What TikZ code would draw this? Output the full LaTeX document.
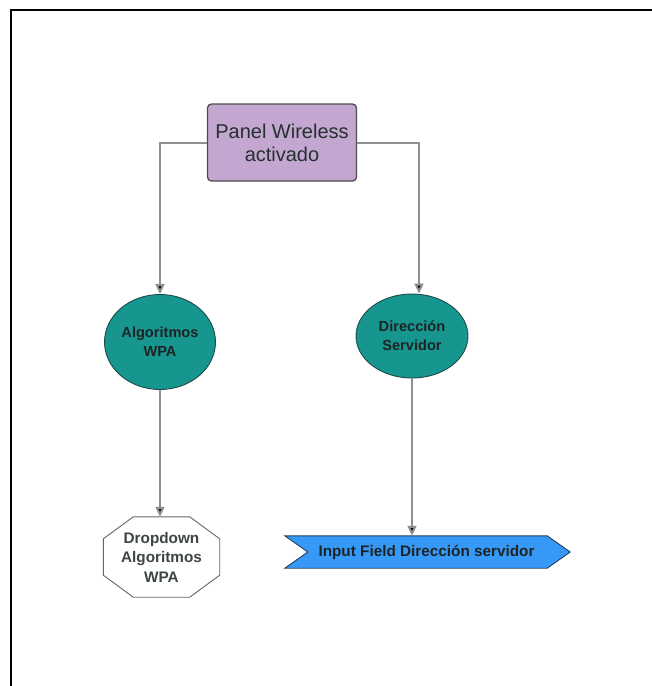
\documentclass[tikz,border=0pt]{standalone}
\usepackage{fontspec}
\setmainfont{Liberation Sans}
\usetikzlibrary{arrows.meta,calc,shapes.geometric}
\definecolor{panelfill}{HTML}{C3A7D1}
\definecolor{panelline}{HTML}{4D4D4D}
\definecolor{tealfill}{HTML}{17968F}
\definecolor{tealline}{HTML}{1E4B49}
\definecolor{inputfill}{HTML}{3799F7}
\definecolor{inputline}{HTML}{22405E}
\definecolor{wire}{HTML}{8F8F8F}
\definecolor{darktext}{HTML}{1C2424}
\tikzset{
  panelbox/.style={draw=panelline, line width=1.3pt, fill=panelfill, rounded corners=4pt,
    minimum width=149pt, minimum height=77pt, align=center, inner sep=0pt,
    font=\fontsize{20}{23}\selectfont, text=darktext!95},
  bubble/.style={ellipse, draw=tealline, line width=0.9pt, fill=tealfill, align=center,
    inner sep=0pt, font=\bfseries\fontsize{14.6}{19}\selectfont, text=darktext},
  holder/.style={draw=none, inner sep=0pt, align=center},
  octo/.style={draw=black!60, line width=0.9pt, fill=white},
  chevron/.style={draw=inputline, line width=0.9pt, fill=inputfill},
  link/.style={draw=wire, line width=2pt, -{Triangle[length=10pt,width=9pt,fill=black]}},
  frameline/.style={draw=black, line width=2pt}
}
\begin{document}
\begin{tikzpicture}[x=1pt,y=-1pt]
\useasboundingbox (0,0) rectangle (652,686);
% outer frame (left and top edges)
\draw[frameline] (11,686) -- (11,9.5) -- (652,9.5);

% top panel
\node[panelbox] (panel) at (282,142.5) {Panel Wireless\\activado};

% the two teal ellipses
\node[bubble, minimum width=111pt, minimum height=95pt] (wpa) at (160,342) {Algoritmos\\WPA};
\node[bubble, minimum width=112pt, minimum height=84pt] (srv) at (412,336) {Dirección\\Servidor};

% octagon for the dropdown
\node[holder, minimum width=116pt, minimum height=80pt] (dd) at (161.5,557) {};
\draw[octo] ([xshift=30pt]dd.north west) -- ([xshift=-30pt]dd.north east)
  -- ([yshift=-22pt]dd.north east) -- ([yshift=22pt]dd.south east)
  -- ([xshift=-30pt]dd.south east) -- ([xshift=30pt]dd.south west)
  -- ([yshift=22pt]dd.south west) -- ([yshift=-22pt]dd.north west) -- cycle;
\node[font=\bfseries\fontsize{15.3}{19.5}\selectfont, text=darktext!85, align=center] at (dd.center)
  {Dropdown\\Algoritmos\\WPA};

% chevron for the input field
\node[holder, minimum width=285pt, minimum height=32pt] (inp) at (427.5,552) {};
\draw[chevron] (inp.north west) -- ([xshift=-23pt]inp.north east) -- (inp.east)
  -- ([xshift=-23pt]inp.south east) -- (inp.south west) -- ([xshift=23pt]inp.west) -- cycle;
\node[font=\bfseries\fontsize{15.3}{17}\selectfont, text=darktext] at ([xshift=-1pt]inp.center)
  {Input Field Dirección servidor};

% connectors
\draw[link] (panel.west) -| (wpa.north);
\draw[link] (panel.east) -| ([xshift=7pt]srv.north);
\draw[link] (wpa.south) -- (wpa.south |- dd.north);
\draw[link] (srv.south) -- (srv.south |- inp.north);
\end{tikzpicture}
\end{document}
